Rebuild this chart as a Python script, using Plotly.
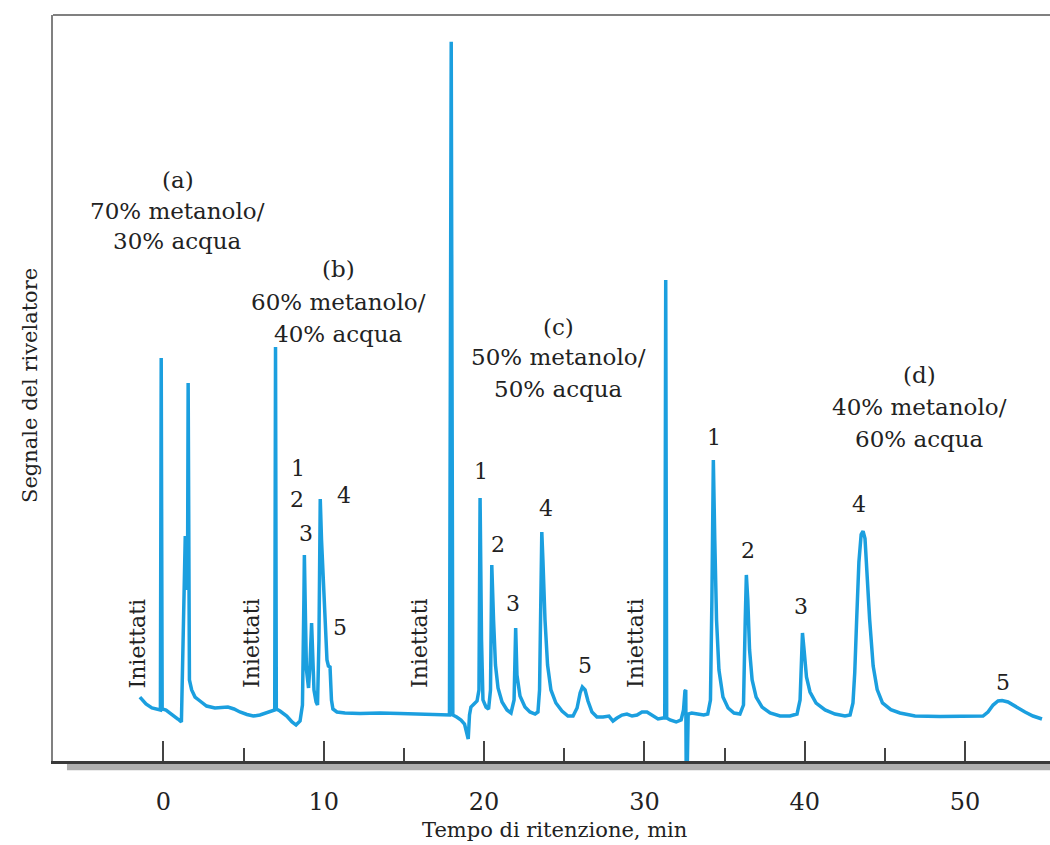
import plotly.graph_objects as go

# ---- data (time in min, detector signal in arbitrary units) ----
time_min = [
    -1.47, -1.09, -0.72, -0.34, -0.19, -0.14, -0.08, 0.16, 0.53, 0.90, 1.12, 1.22, 1.31, 1.36, 1.43, 1.50,
    1.54, 1.58, 1.62, 1.76, 1.97, 2.28, 2.69, 3.21, 3.65, 4.02, 4.40, 4.77, 5.21, 5.60, 6.02, 6.44, 6.77,
    6.94, 6.99, 7.04, 7.27, 7.69, 8.02, 8.27, 8.52, 8.67, 8.76, 8.79, 8.86, 8.92, 9.05, 9.14, 9.24, 9.30,
    9.39, 9.52, 9.61, 9.70, 9.78, 9.86, 9.98, 10.11, 10.20, 10.29, 10.39, 10.48, 10.57, 10.82, 11.32,
    12.26, 13.51, 14.75, 16.00, 17.25, 17.84, 17.95, 18.05, 18.29, 18.56, 18.78, 18.94, 19.01, 19.09,
    19.18, 19.37, 19.56, 19.68, 19.75, 19.84, 19.93, 20.12, 20.28, 20.40, 20.48, 20.59, 20.71, 20.87,
    21.12, 21.43, 21.68, 21.87, 21.97, 22.05, 22.24, 22.55, 22.86, 23.18, 23.36, 23.46, 23.55, 23.60,
    23.67, 23.80, 23.96, 24.17, 24.48, 24.86, 25.23, 25.55, 25.80, 25.99, 26.13, 26.30, 26.48, 26.73,
    27.04, 27.42, 27.79, 28.04, 28.29, 28.60, 28.91, 29.23, 29.54, 29.85, 30.16, 30.47, 30.85, 31.16,
    31.27, 31.33, 31.39, 31.60, 31.98, 32.29, 32.44, 32.53, 32.58, 32.61, 32.66, 32.73, 32.95, 33.32,
    33.70, 33.95, 34.12, 34.21, 34.30, 34.39, 34.50, 34.65, 34.90, 35.22, 35.59, 35.96, 36.18, 36.29,
    36.36, 36.45, 36.56, 36.72, 36.97, 37.34, 37.84, 38.46, 39.08, 39.52, 39.71, 39.80, 39.86, 39.96,
    40.11, 40.33, 40.71, 41.27, 41.89, 42.51, 42.83, 43.01, 43.12, 43.24, 43.38, 43.52, 43.64, 43.76,
    43.90, 44.05, 44.27, 44.52, 44.85, 45.37, 45.94, 46.88, 48.44, 50.00, 51.12, 51.43, 51.75, 52.06,
    52.31, 52.68, 53.18, 53.74, 54.24, 54.80,
]
signal = [
    2.38, 1.34, 0.75, 0.45, 0.45, 52.91, 0.60, 0.45, -0.15, -0.89, -1.34, 10.88, 24.59, 26.38, 22.80, 18.33,
    49.18, 6.11, 4.92, 3.43, 2.38, 1.79, 1.04, 0.75, 0.82, 0.89, 0.60, 0.15, -0.22, -0.45, -0.30, 0.00, 0.22,
    0.45, 54.55, 0.60, 0.30, -0.45, -1.34, -1.79, -1.19, 1.19, 16.84, 23.55, 13.86, 6.41, 3.73, 7.15, 13.41, 9.39,
    3.43, 1.64, 1.19, 10.88, 31.89, 25.78, 18.33, 12.37, 7.90, 7.00, 6.86, 1.94, 0.60, 0.15, 0.00,
    -0.07, 0.00, -0.07, -0.15, -0.22, -0.30, 100.0, -0.30, -0.60, -1.04, -1.64, -2.98, -3.87, -0.30,
    0.89, 1.34, 1.79, 3.43, 32.04, 10.88, 1.94, 0.89, 0.60, 3.43, 22.06, 13.86, 7.15, 3.73,
    1.64, 0.45, 0.00, 1.94, 12.67, 5.66, 2.53, 0.89, 0.15, -0.15, 0.15, 3.43, 16.84, 26.97,
    22.80, 13.86, 7.15, 3.43, 1.49, 0.30, -0.45, -0.45, 0.75, 2.98, 3.87, 3.43, 1.79, 0.15,
    -0.60, -0.60, -0.45, -1.19, -0.75, -0.30, -0.15, -0.45, -0.30, 0.15, 0.15, -0.30, -0.89, -0.75,
    -0.75, 64.53, -0.75, -1.04, -1.34, -1.04, 0.45, 3.28, 3.43, -10.0, -10.0, -0.15, 0.00, -0.15,
    -0.30, -0.15, 1.94, 16.84, 37.70, 25.78, 13.86, 6.41, 2.38, 0.75, 0.00, -0.15, 1.19, 13.86,
    20.57, 16.84, 9.39, 4.92, 2.38, 0.89, 0.00, -0.45, -0.45, -0.15, 1.94, 7.90, 11.92, 9.39,
    5.37, 3.13, 1.49, 0.45, -0.15, -0.45, -0.30, 1.50, 6.00, 13.90, 22.50, 26.60, 27.10, 26.00,
    20.00, 13.90, 7.00, 3.50, 1.50, 0.50, 0.00, -0.45, -0.52, -0.52, -0.45, 0.15, 1.19, 1.79,
    1.86, 1.64, 0.89, 0.15, -0.45, -0.89,
]

# tick values of the time axis
x_major_ticks = [0, 10, 20, 30, 40, 50]
x_minor_ticks = [5, 15, 25, 35, 45]

# run labels (mobile phase composition)
run_labels = ["(a)", "70% metanolo/", "30% acqua",
              "(b)", "60% metanolo/", "40% acqua",
              "(c)", "50% metanolo/", "50% acqua",
              "(d)", "40% metanolo/", "60% acqua"]
run_label_t = [0.90, 0.90, 0.90, 10.89, 10.89, 10.89, 24.67, 24.67, 24.67, 47.17, 47.17, 47.17]
run_label_s = [79.43, 74.81, 70.34, 66.11, 61.30, 56.48, 57.53, 53.06, 48.29, 50.30, 45.63, 40.83]

# peak numbers
peak_labels = ["1", "2", "3", "4", "5"] * 3
peak_label_t = [8.39, 8.33, 8.89, 11.26, 11.01,
                19.81, 20.87, 21.80, 23.86, 26.29,
                34.34, 36.46, 39.77, 43.39, 52.37]
peak_label_s = [36.36, 31.74, 26.68, 32.34, 12.67,
                35.92, 25.04, 16.39, 30.40, 7.15,
                40.98, 24.14, 15.80, 31.00, 4.62]

# injection marks
inject_text = "Iniettati"
inject_t = [-1.62, 5.46, 15.94, 29.41]
inject_s = 10.43

LINE_COLOR = "#1B9FDF"
TEXT_COLOR = "#222222"
FONT = "DejaVu Serif"

fig = go.Figure()
fig.add_trace(go.Scatter(x=time_min, y=signal, mode="lines",
                         line=dict(color=LINE_COLOR, width=3.5), hoverinfo="skip",
                         showlegend=False))

annotations = []
for txt, t, s in zip(run_labels, run_label_t, run_label_s):
    annotations.append(dict(x=t, y=s, xref="x", yref="y", text=txt, showarrow=False,
                            xanchor="center", yanchor="middle",
                            font=dict(family=FONT, size=23, color=TEXT_COLOR)))
for txt, t, s in zip(peak_labels, peak_label_t, peak_label_s):
    annotations.append(dict(x=t, y=s, xref="x", yref="y", text=txt, showarrow=False,
                            xanchor="center", yanchor="middle",
                            font=dict(family=FONT, size=22, color=TEXT_COLOR)))
for t in inject_t:
    annotations.append(dict(x=t, y=inject_s, xref="x", yref="y", text=inject_text, showarrow=False,
                            xanchor="center", yanchor="middle",
                            textangle=-90, font=dict(family=FONT, size=22, color=TEXT_COLOR)))
# axis titles
annotations.append(dict(x=0.5031, y=-0.0925, xref="paper", yref="paper",
                        xanchor="center", yanchor="middle",
                        text="Tempo di ritenzione, min", showarrow=False,
                        font=dict(family=FONT, size=21, color=TEXT_COLOR)))
annotations.append(dict(x=-0.0231, y=0.504, xref="paper", yref="paper",
                        xanchor="center", yanchor="middle",
                        text="Segnale del rivelatore", showarrow=False, textangle=-90,
                        font=dict(family=FONT, size=21, color=TEXT_COLOR)))

shapes = [
    # top frame line
    dict(type="line", xref="paper", yref="paper", x0=0, x1=1, y0=1, y1=1,
         line=dict(color="#808080", width=2)),
    # shadow under the time axis
    dict(type="rect", xref="paper", yref="paper", x0=0.014, x1=1, y0=-0.0125, y1=-0.004,
         fillcolor="#b0b0b0", line=dict(width=0), layer="below"),
]

fig.update_layout(
    width=1050, height=845,
    margin=dict(l=53, r=0, t=15, b=84),
    paper_bgcolor="white", plot_bgcolor="white",
    showlegend=False,
    annotations=annotations,
    shapes=shapes,
    xaxis=dict(range=[-6.89, 55.30], tickmode="array", tickvals=x_major_ticks,
               ticktext=[str(v) for v in x_major_ticks],
               ticks="inside", ticklen=20, tickwidth=1.5, tickcolor="#444",
               minor=dict(tickmode="array", tickvals=x_minor_ticks, ticks="inside", ticklen=13,
                          tickwidth=1.5, tickcolor="#444", showgrid=False),
               showline=True, linecolor="#3a3a3a", linewidth=3,
               showgrid=False, zeroline=False, ticklabelstandoff=17,
               tickfont=dict(family=FONT, size=24, color=TEXT_COLOR)),
    yaxis=dict(range=[-7.15, 104.0], showticklabels=False, ticks="", showgrid=False, zeroline=False,
               showline=True, linecolor="#808080", linewidth=2),
)

fig.write_html("out.html")
